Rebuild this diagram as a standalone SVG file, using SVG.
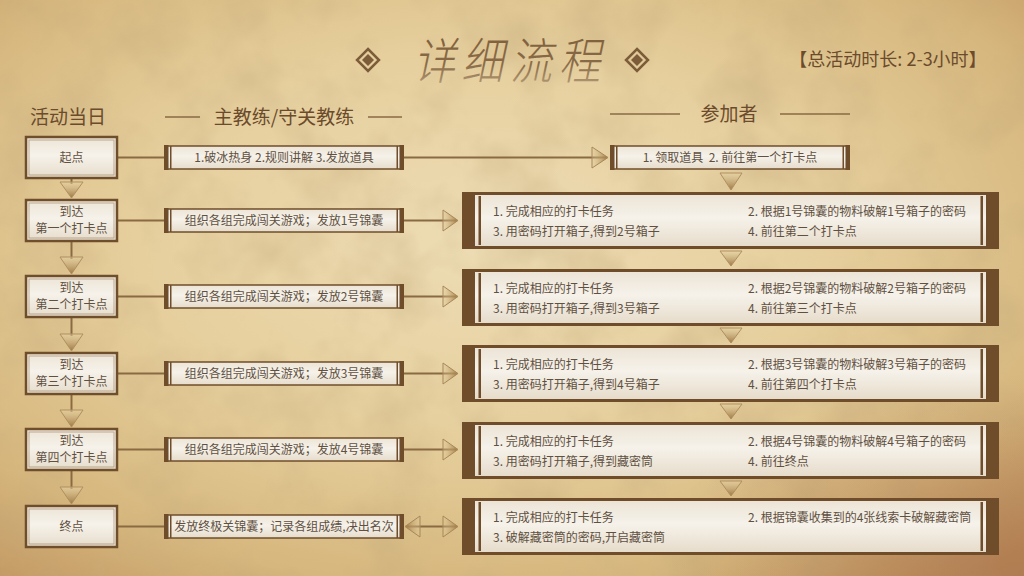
<svg xmlns="http://www.w3.org/2000/svg" width="1024" height="576" viewBox="0 0 1024 576">
<defs>
<radialGradient id="bg" cx="0.47" cy="0.42" r="0.75">
<stop offset="0" stop-color="#eddcb4"/>
<stop offset="0.45" stop-color="#e6cf9d"/>
<stop offset="0.8" stop-color="#d6b77d"/>
<stop offset="1" stop-color="#c39862"/>
</radialGradient>
<radialGradient id="corner" cx="1" cy="1" r="0.35">
<stop offset="0" stop-color="#a8704a" stop-opacity="0.7"/>
<stop offset="1" stop-color="#a8704a" stop-opacity="0"/>
</radialGradient>
<filter id="paper" x="0" y="0" width="100%" height="100%">
<feTurbulence type="fractalNoise" baseFrequency="0.014" numOctaves="4" seed="7"/>
<feColorMatrix type="matrix" values="0 0 0 0 0.55  0 0 0 0 0.40  0 0 0 0 0.20  0.9 0 0 0 -0.38"/>
</filter>
<linearGradient id="title" x1="0" y1="0" x2="0" y2="1">
<stop offset="0" stop-color="#7a5a37"/>
<stop offset="0.6" stop-color="#8a6b47"/>
<stop offset="1" stop-color="#c2ab86"/>
</linearGradient>
<linearGradient id="card" x1="0" y1="0" x2="0" y2="1">
<stop offset="0" stop-color="#ece4d6"/>
<stop offset="0.45" stop-color="#f6f2ea"/>
<stop offset="1" stop-color="#e6dccb"/>
</linearGradient>
<linearGradient id="triR" x1="0" y1="0" x2="1" y2="0">
<stop offset="0" stop-color="#e3cd9c" stop-opacity="0.3"/>
<stop offset="1" stop-color="#a07a42"/>
</linearGradient>
<linearGradient id="triL" x1="1" y1="0" x2="0" y2="0">
<stop offset="0" stop-color="#e3cd9c" stop-opacity="0.3"/>
<stop offset="1" stop-color="#a07a42"/>
</linearGradient>
<linearGradient id="triD" x1="0" y1="0" x2="0" y2="1">
<stop offset="0" stop-color="#e8d5a6" stop-opacity="0.5"/>
<stop offset="1" stop-color="#9c7640"/>
</linearGradient>
<style>
text{font-family:"Noto Sans CJK SC","Noto Sans",sans-serif;font-weight:400;}
.hd{font-size:19px;fill:#6b4b2c;}
.t{font-size:12px;fill:#5f5042;}
.tc{font-size:12px;fill:#5f5042;text-anchor:middle;}
.pre{white-space:pre;}
.box{fill:url(#card);stroke:#6f4e2b;stroke-width:2.5;}
.boxin{fill:none;stroke:#9a7b55;stroke-width:0.8;opacity:0.7;}
.bar{fill:url(#card);stroke:#6f4e2b;stroke-width:1.5;}
.dark{fill:#6f4d2a;}
.ln{stroke:#8a6a42;stroke-width:2;fill:none;}
.hl{stroke:#8a6a45;stroke-width:1.5;}
.tr{fill:url(#triR);stroke:#a8875a;stroke-width:1;}
.tl{fill:url(#triL);stroke:#a8875a;stroke-width:1;}
.td{fill:url(#triD);stroke:#b08f60;stroke-width:1;}
.dm{fill:none;stroke:#7d5c3a;stroke-width:2.5;}
.dmi{fill:#7d5c3a;}
</style>
</defs>

<!-- background -->
<rect width="1024" height="576" fill="url(#bg)"/>
<rect width="1024" height="576" filter="url(#paper)"/>
<rect width="1024" height="576" fill="url(#corner)"/>

<!-- title -->
<g id="title">
<polygon class="dm" points="368,49 379,60 368,71 357,60"/>
<polygon class="dmi" points="368,54 374,60 368,66 362,60"/>
<polygon class="dm" points="637,49 648,60 637,71 626,60"/>
<polygon class="dmi" points="637,54 643,60 637,66 631,60"/>
<text x="0" y="0" transform="translate(510,79) scale(0.95,1.12) skewX(-14)" text-anchor="middle" font-size="44" font-weight="300" letter-spacing="7" fill="url(#title)" style="font-weight:300">详细流程</text>
<text x="888" y="66" text-anchor="middle" font-size="18" fill="#6b4b2c">【总活动时长: 2-3小时】</text>
</g>

<!-- headers -->
<g id="headers">
<text class="hd" x="30" y="124">活动当日</text>
<line class="hl" x1="165" y1="117" x2="200" y2="117"/>
<text class="hd" x="284" y="124" text-anchor="middle">主教练/守关教练</text>
<line class="hl" x1="368" y1="117" x2="402" y2="117"/>
<line class="hl" x1="610" y1="114" x2="680" y2="114"/>
<text class="hd" x="729" y="121" text-anchor="middle">参加者</text>
<line class="hl" x1="780" y1="114" x2="850" y2="114"/>
</g>

<!-- connectors -->
<g id="connectors">
<line class="ln" x1="71.5" y1="178" x2="71.5" y2="184"/>
<polygon class="td" points="60,182 83,182 71.5,198"/>
<line class="ln" x1="71.5" y1="241" x2="71.5" y2="259"/>
<polygon class="td" points="60,257 83,257 71.5,274"/>
<line class="ln" x1="71.5" y1="317" x2="71.5" y2="336"/>
<polygon class="td" points="60,334 83,334 71.5,351"/>
<line class="ln" x1="71.5" y1="394" x2="71.5" y2="412"/>
<polygon class="td" points="60,410 83,410 71.5,427"/>
<line class="ln" x1="71.5" y1="470" x2="71.5" y2="489"/>
<polygon class="td" points="60,487 83,487 71.5,504"/>
<line class="ln" x1="117" y1="157.5" x2="164" y2="157.5"/>
<line class="ln" x1="117" y1="220.5" x2="164" y2="220.5"/>
<line class="ln" x1="117" y1="296.5" x2="164" y2="296.5"/>
<line class="ln" x1="117" y1="373.5" x2="164" y2="373.5"/>
<line class="ln" x1="117" y1="449.5" x2="164" y2="449.5"/>
<line class="ln" x1="117" y1="526.5" x2="164" y2="526.5"/>
<line class="ln" x1="404" y1="157.5" x2="606" y2="157.5"/>
<polygon class="tr" points="592,147 592,168 608,157.5"/>
<line class="ln" x1="404" y1="220.5" x2="456" y2="220.5"/>
<polygon class="tr" points="443,210 443,231 458,220.5"/>
<line class="ln" x1="404" y1="296.5" x2="456" y2="296.5"/>
<polygon class="tr" points="443,286 443,307 458,296.5"/>
<line class="ln" x1="404" y1="373.5" x2="456" y2="373.5"/>
<polygon class="tr" points="443,363 443,384 458,373.5"/>
<line class="ln" x1="404" y1="449.5" x2="456" y2="449.5"/>
<polygon class="tr" points="443,439 443,460 458,449.5"/>
<line class="ln" x1="407" y1="526.5" x2="456" y2="526.5"/>
<polygon class="tl" points="420,516 420,537 405,526.5"/>
<polygon class="tr" points="443,516 443,537 458,526.5"/>
<polygon class="td" points="720,173 742,173 731,190"/>
<polygon class="td" points="720,251 742,251 731,266"/>
<polygon class="td" points="720,328 742,328 731,343"/>
<polygon class="td" points="720,404 742,404 731,419"/>
<polygon class="td" points="720,481 742,481 731,496"/>
</g>

<!-- left column nodes -->
<g id="n-start">
<rect class="box" x="26" y="137" width="91" height="41"/>
<rect class="boxin" x="29" y="140" width="85" height="35"/>
<text class="tc" x="71.5" y="162">起点</text>
</g>
<g id="n-cp1">
<rect class="box" x="26" y="200" width="91" height="41"/>
<rect class="boxin" x="29" y="203" width="85" height="35"/>
<text class="tc" x="71.5" y="216">到达</text>
<text class="tc" x="71.5" y="233">第一个打卡点</text>
</g>
<g id="n-cp2">
<rect class="box" x="26" y="276" width="91" height="41"/>
<rect class="boxin" x="29" y="279" width="85" height="35"/>
<text class="tc" x="71.5" y="292">到达</text>
<text class="tc" x="71.5" y="309">第二个打卡点</text>
</g>
<g id="n-cp3">
<rect class="box" x="26" y="353" width="91" height="41"/>
<rect class="boxin" x="29" y="356" width="85" height="35"/>
<text class="tc" x="71.5" y="369">到达</text>
<text class="tc" x="71.5" y="386">第三个打卡点</text>
</g>
<g id="n-cp4">
<rect class="box" x="26" y="429" width="91" height="41"/>
<rect class="boxin" x="29" y="432" width="85" height="35"/>
<text class="tc" x="71.5" y="445">到达</text>
<text class="tc" x="71.5" y="462">第四个打卡点</text>
</g>
<g id="n-end">
<rect class="box" x="26" y="506" width="91" height="41"/>
<rect class="boxin" x="29" y="509" width="85" height="35"/>
<text class="tc" x="71.5" y="531">终点</text>
</g>

<!-- coach bars -->
<g id="c-start">
<rect class="bar" x="165" y="146" width="238" height="23"/>
<rect class="dark" x="164" y="145" width="4.5" height="25"/>
<rect class="dark" x="170" y="146" width="1.5" height="23"/>
<rect class="dark" x="399.5" y="145" width="4.5" height="25"/>
<rect class="dark" x="396.5" y="146" width="1.5" height="23"/>
<text class="tc" x="284" y="162">1.破冰热身 2.规则讲解 3.发放道具</text>
</g>
<g id="c-cp1">
<rect class="bar" x="165" y="209" width="238" height="23"/>
<rect class="dark" x="164" y="208" width="4.5" height="25"/>
<rect class="dark" x="170" y="209" width="1.5" height="23"/>
<rect class="dark" x="399.5" y="208" width="4.5" height="25"/>
<rect class="dark" x="396.5" y="209" width="1.5" height="23"/>
<text class="tc" x="284" y="225">组织各组完成闯关游戏；发放1号锦囊</text>
</g>
<g id="c-cp2">
<rect class="bar" x="165" y="285" width="238" height="23"/>
<rect class="dark" x="164" y="284" width="4.5" height="25"/>
<rect class="dark" x="170" y="285" width="1.5" height="23"/>
<rect class="dark" x="399.5" y="284" width="4.5" height="25"/>
<rect class="dark" x="396.5" y="285" width="1.5" height="23"/>
<text class="tc" x="284" y="301">组织各组完成闯关游戏；发放2号锦囊</text>
</g>
<g id="c-cp3">
<rect class="bar" x="165" y="362" width="238" height="23"/>
<rect class="dark" x="164" y="361" width="4.5" height="25"/>
<rect class="dark" x="170" y="362" width="1.5" height="23"/>
<rect class="dark" x="399.5" y="361" width="4.5" height="25"/>
<rect class="dark" x="396.5" y="362" width="1.5" height="23"/>
<text class="tc" x="284" y="378">组织各组完成闯关游戏；发放3号锦囊</text>
</g>
<g id="c-cp4">
<rect class="bar" x="165" y="438" width="238" height="23"/>
<rect class="dark" x="164" y="437" width="4.5" height="25"/>
<rect class="dark" x="170" y="438" width="1.5" height="23"/>
<rect class="dark" x="399.5" y="437" width="4.5" height="25"/>
<rect class="dark" x="396.5" y="438" width="1.5" height="23"/>
<text class="tc" x="284" y="454">组织各组完成闯关游戏；发放4号锦囊</text>
</g>
<g id="c-end">
<rect class="bar" x="165" y="515" width="238" height="23"/>
<rect class="dark" x="164" y="514" width="4.5" height="25"/>
<rect class="dark" x="170" y="515" width="1.5" height="23"/>
<rect class="dark" x="399.5" y="514" width="4.5" height="25"/>
<rect class="dark" x="396.5" y="515" width="1.5" height="23"/>
<text class="tc" x="284" y="531">发放终极关锦囊；记录各组成绩,决出名次</text>
</g>

<!-- participant nodes -->
<g id="p-start">
<rect class="bar" x="611" y="146" width="238" height="23"/>
<rect class="dark" x="610" y="145" width="4.5" height="25"/>
<rect class="dark" x="616" y="146" width="1.5" height="23"/>
<rect class="dark" x="845.5" y="145" width="4.5" height="25"/>
<rect class="dark" x="842.5" y="146" width="1.5" height="23"/>
<text class="tc pre" x="730" y="162">1. 领取道具  2. 前往第一个打卡点</text>
</g>
<g id="p-cp1">
<rect class="dark" x="462" y="192" width="537" height="57"/>
<rect fill="url(#card)" x="475" y="195" width="511" height="51"/>
<rect class="dark" x="478.5" y="196" width="2.5" height="49"/>
<rect class="dark" x="980.5" y="196" width="2.5" height="49"/>
<text class="t" x="493" y="216">1. 完成相应的打卡任务</text>
<text class="t" x="748" y="216">2. 根据1号锦囊的物料破解1号箱子的密码</text>
<text class="t" x="493" y="236">3. 用密码打开箱子,得到2号箱子</text>
<text class="t" x="748" y="236">4. 前往第二个打卡点</text>
</g>
<g id="p-cp2">
<rect class="dark" x="462" y="269" width="537" height="57"/>
<rect fill="url(#card)" x="475" y="272" width="511" height="51"/>
<rect class="dark" x="478.5" y="273" width="2.5" height="49"/>
<rect class="dark" x="980.5" y="273" width="2.5" height="49"/>
<text class="t" x="493" y="293">1. 完成相应的打卡任务</text>
<text class="t" x="748" y="293">2. 根据2号锦囊的物料破解2号箱子的密码</text>
<text class="t" x="493" y="313">3. 用密码打开箱子,得到3号箱子</text>
<text class="t" x="748" y="313">4. 前往第三个打卡点</text>
</g>
<g id="p-cp3">
<rect class="dark" x="462" y="345" width="537" height="57"/>
<rect fill="url(#card)" x="475" y="348" width="511" height="51"/>
<rect class="dark" x="478.5" y="349" width="2.5" height="49"/>
<rect class="dark" x="980.5" y="349" width="2.5" height="49"/>
<text class="t" x="493" y="369">1. 完成相应的打卡任务</text>
<text class="t" x="748" y="369">2. 根据3号锦囊的物料破解3号箱子的密码</text>
<text class="t" x="493" y="389">3. 用密码打开箱子,得到4号箱子</text>
<text class="t" x="748" y="389">4. 前往第四个打卡点</text>
</g>
<g id="p-cp4">
<rect class="dark" x="462" y="422" width="537" height="57"/>
<rect fill="url(#card)" x="475" y="425" width="511" height="51"/>
<rect class="dark" x="478.5" y="426" width="2.5" height="49"/>
<rect class="dark" x="980.5" y="426" width="2.5" height="49"/>
<text class="t" x="493" y="446">1. 完成相应的打卡任务</text>
<text class="t" x="748" y="446">2. 根据4号锦囊的物料破解4号箱子的密码</text>
<text class="t" x="493" y="466">3. 用密码打开箱子,得到藏密筒</text>
<text class="t" x="748" y="466">4. 前往终点</text>
</g>
<g id="p-end">
<rect class="dark" x="462" y="498" width="537" height="57"/>
<rect fill="url(#card)" x="475" y="501" width="511" height="51"/>
<rect class="dark" x="478.5" y="502" width="2.5" height="49"/>
<rect class="dark" x="980.5" y="502" width="2.5" height="49"/>
<text class="t" x="493" y="522">1. 完成相应的打卡任务</text>
<text class="t" x="748" y="522">2. 根据锦囊收集到的4张线索卡破解藏密筒</text>
<text class="t" x="493" y="542">3. 破解藏密筒的密码,开启藏密筒</text>
</g>
</svg>
